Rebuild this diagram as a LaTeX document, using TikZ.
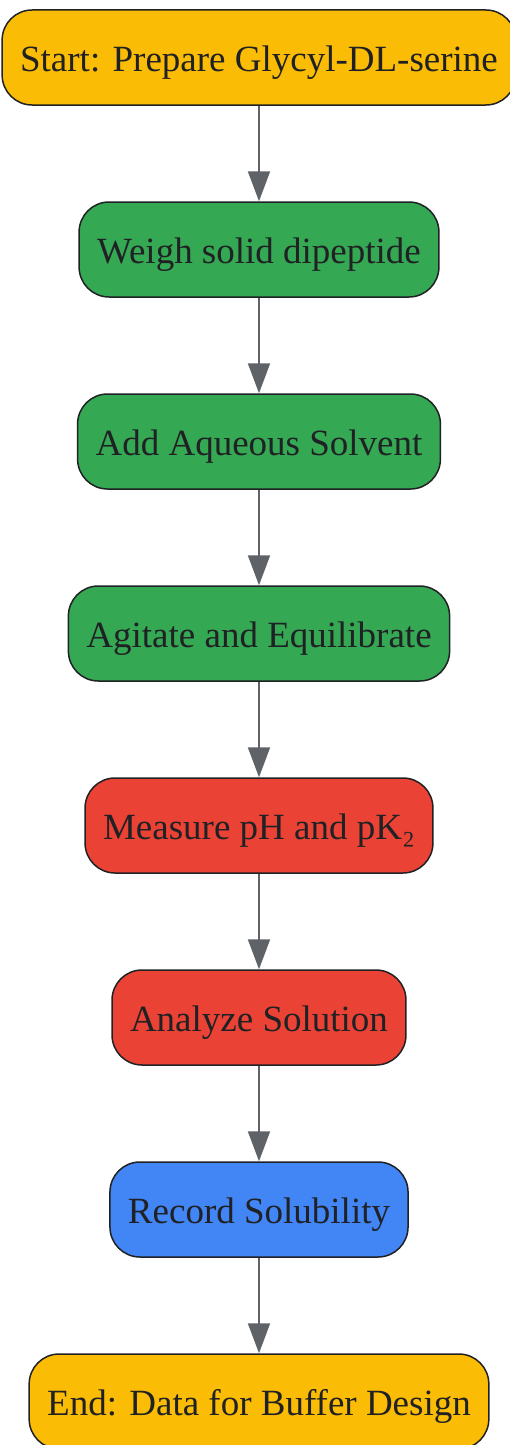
\documentclass[tikz,border=0pt]{standalone}
\usepackage{fontspec}
\setmainfont{Liberation Serif}
\usetikzlibrary{positioning, arrows.meta}

\definecolor{startyellow}{HTML}{FBBC05}
\definecolor{stepgreen}{HTML}{34A853}
\definecolor{stepred}{HTML}{EA4335}
\definecolor{stepblue}{HTML}{4285F4}
\definecolor{inkgray}{HTML}{202124}
\definecolor{arrowgray}{HTML}{5F6368}

\tikzset{
    stepbox/.style={draw=inkgray, line width=1.5pt, rounded corners=30pt,
        minimum height=95pt, inner xsep=18pt, text=inkgray,
        text height=28pt, text depth=0pt,
        font=\fontsize{37}{42}\selectfont},
    flow/.style={draw=arrowgray, line width=2pt,
        -{Triangle[length=30pt, width=22pt]}}
}

\begin{document}
\begin{tikzpicture}[x=1pt, y=1pt]
    \useasboundingbox (0,0) rectangle (509,-1445);

    \node[stepbox, fill=startyellow] (start) at (259,-57.5) {Start: Prepare Glycyl-DL-serine};
    \node[stepbox, fill=stepgreen, below = 95.5pt of start] (weigh) {Weigh solid dipeptide};
    \node[stepbox, fill=stepgreen, below = 95.5pt of weigh] (solvent) {Add Aqueous Solvent};
    \node[stepbox, fill=stepgreen, below = 95.5pt of solvent] (agitate) {Agitate and Equilibrate};
    \node[stepbox, fill=stepred, below = 95.5pt of agitate] (measure) {Measure pH and pK₂};
    \node[stepbox, fill=stepred, below = 95.5pt of measure] (analyze) {Analyze Solution};
    \node[stepbox, fill=stepblue, below = 95.5pt of analyze] (record) {Record Solubility};
    \node[stepbox, fill=startyellow, below = 95.5pt of record] (end) {End: Data for Buffer Design};

    \draw[flow] (start) -- (weigh);
    \draw[flow] (weigh) -- (solvent);
    \draw[flow] (solvent) -- (agitate);
    \draw[flow] (agitate) -- (measure);
    \draw[flow] (measure) -- (analyze);
    \draw[flow] (analyze) -- (record);
    \draw[flow] (record) -- (end);

\end{tikzpicture}
\end{document}
